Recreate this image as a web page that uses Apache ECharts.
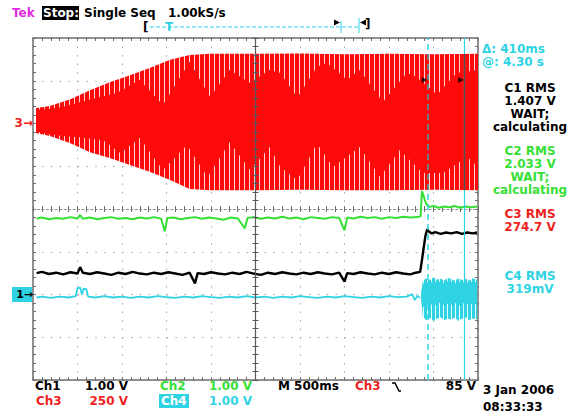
<!DOCTYPE html>
<html><head><meta charset="utf-8">
<script src="https://cdn.jsdelivr.net/npm/echarts@6/dist/echarts.min.js"></script>
<style>html,body{margin:0;padding:0;background:#fff}#c{width:570px;height:415px}</style>
</head><body><div id="c"></div>
<script>
// ---------------- DATA (x = time in s, 500 ms/div; y = screen divisions) ----------------
const ch3OuterTime = [0.034, 0.19, 0.42, 0.64, 0.87, 1.09, 1.31, 1.54, 1.76, 1.99, 2.5, 3.0, 3.5, 4.0, 4.5, 5.0];
const ch3OuterHigh = [2.36, 2.41, 2.57, 2.78, 2.97, 3.13, 3.30, 3.49, 3.60, 3.63, 3.63, 3.64, 3.62, 3.63, 3.62, 3.63];
const ch3OuterLow  = [1.78, 1.71, 1.54, 1.33, 1.19, 1.03, 0.87, 0.68, 0.47, 0.44, 0.44, 0.45, 0.44, 0.44, 0.45, 0.44];

const ch3InnerHighTime = [0.034, 0.19, 0.34, 0.72, 0.94, 1.20, 1.46, 1.76, 1.99, 2.21, 2.44, 2.66, 2.78, 2.97, 3.19, 3.30, 3.53, 3.67, 3.93, 4.20, 4.31, 4.54, 4.76, 5.00];
const ch3InnerHigh     = [2.32, 2.34, 2.39, 2.60, 2.71, 3.02, 2.43, 3.44, 2.62, 3.25, 2.95, 3.25, 3.18, 2.60, 3.32, 3.42, 3.02, 3.25, 2.50, 3.18, 3.09, 2.67, 3.18, 3.25];
const ch3InnerLowTime  = [0.034, 0.19, 0.34, 0.53, 0.79, 0.98, 1.20, 1.46, 1.73, 1.96, 2.21, 2.44, 2.66, 2.78, 2.97, 3.19, 3.37, 3.67, 3.90, 4.12, 4.38, 4.61, 4.88, 5.00];
const ch3InnerLow      = [1.82, 1.75, 1.71, 1.68, 1.61, 1.31, 1.66, 0.91, 1.50, 0.75, 1.57, 0.91, 1.45, 0.98, 0.68, 1.54, 0.98, 1.45, 0.75, 1.38, 0.84, 0.84, 1.22, 0.98];

const ch2Time = [0.04,0.10,0.18,0.26,0.34,0.42,0.50,0.53,0.56,0.64,0.72,0.80,0.88,0.96,1.04,1.12,1.20,1.28,1.36,1.44,1.48,1.51,1.58,1.66,1.74,1.82,1.90,1.98,2.06,2.14,2.22,2.30,2.38,2.41,2.48,2.56,2.64,2.72,2.80,2.88,2.96,3.04,3.12,3.20,3.28,3.36,3.44,3.50,3.53,3.60,3.68,3.76,3.84,3.92,4.00,4.08,4.16,4.24,4.32,4.355,4.37,4.39,4.41,4.43,4.46,4.50,4.56,4.62,4.68,4.74,4.80,4.86,4.92,4.99];
const ch2Volt = [-0.22,-0.20,-0.24,-0.21,-0.23,-0.19,-0.22,-0.14,-0.23,-0.20,-0.24,-0.21,-0.19,-0.23,-0.21,-0.24,-0.20,-0.22,-0.19,-0.23,-0.52,-0.21,-0.20,-0.24,-0.21,-0.19,-0.23,-0.20,-0.22,-0.25,-0.20,-0.22,-0.45,-0.21,-0.19,-0.23,-0.20,-0.22,-0.18,-0.22,-0.20,-0.24,-0.19,-0.21,-0.23,-0.19,-0.21,-0.50,-0.20,-0.22,-0.18,-0.21,-0.19,-0.23,-0.19,-0.21,-0.18,-0.20,-0.19,-0.17,0.42,0.30,0.16,0.08,0.05,0.07,0.03,0.06,0.04,0.07,0.03,0.06,0.04,0.06];

const ch1Time = [0.04,0.10,0.18,0.26,0.34,0.42,0.50,0.53,0.56,0.64,0.72,0.80,0.88,0.96,1.04,1.12,1.20,1.28,1.36,1.44,1.52,1.60,1.68,1.76,1.82,1.85,1.92,2.00,2.08,2.16,2.24,2.32,2.40,2.48,2.56,2.64,2.72,2.80,2.88,2.96,3.04,3.12,3.20,3.28,3.36,3.44,3.50,3.53,3.60,3.68,3.76,3.84,3.92,4.00,4.08,4.16,4.24,4.30,4.35,4.37,4.39,4.41,4.43,4.45,4.48,4.52,4.58,4.64,4.70,4.76,4.82,4.88,4.94,4.99];
const ch1Volt = [-1.50,-1.47,-1.52,-1.49,-1.53,-1.48,-1.51,-1.36,-1.49,-1.52,-1.48,-1.51,-1.54,-1.49,-1.52,-1.47,-1.51,-1.53,-1.49,-1.52,-1.48,-1.51,-1.54,-1.49,-1.74,-1.50,-1.52,-1.48,-1.51,-1.53,-1.49,-1.52,-1.47,-1.51,-1.54,-1.49,-1.52,-1.48,-1.51,-1.53,-1.49,-1.52,-1.48,-1.51,-1.53,-1.49,-1.70,-1.50,-1.52,-1.48,-1.51,-1.53,-1.49,-1.52,-1.48,-1.51,-1.53,-1.49,-1.47,-1.20,-0.90,-0.62,-0.47,-0.53,-0.57,-0.54,-0.58,-0.55,-0.57,-0.54,-0.58,-0.55,-0.57,-0.55];

const ch4Time = [0.04,0.10,0.20,0.30,0.40,0.48,0.50,0.53,0.55,0.57,0.60,0.62,0.70,0.80,0.90,1.00,1.10,1.20,1.30,1.40,1.50,1.60,1.70,1.80,1.90,2.00,2.10,2.20,2.30,2.40,2.50,2.60,2.70,2.80,2.90,3.00,3.10,3.20,3.30,3.40,3.50,3.60,3.70,3.80,3.90,4.00,4.10,4.20,4.26,4.29,4.32,4.35];
const ch4Volt = [-2.07,-2.05,-2.08,-2.05,-2.07,-2.04,-1.85,-1.84,-2.00,-1.86,-1.88,-2.05,-2.07,-2.04,-2.07,-2.05,-2.08,-2.05,-2.07,-2.04,-2.06,-2.08,-2.05,-2.07,-2.04,-2.06,-2.08,-2.05,-2.07,-2.04,-2.07,-2.05,-2.08,-2.05,-2.07,-2.04,-2.06,-2.08,-2.05,-2.07,-2.04,-2.06,-2.08,-2.05,-2.07,-2.04,-2.06,-2.05,-1.99,-2.13,-2.03,-2.08];
const ch4BandTime      = [4.36,4.38,4.42,4.46,4.50,4.54,4.58,4.62,4.66,4.70,4.74,4.78,4.82,4.86,4.90,4.94,4.99];
const ch4BandOuterHigh = [-2.00,-1.68,-1.62,-1.66,-1.60,-1.65,-1.63,-1.67,-1.61,-1.64,-1.68,-1.62,-1.66,-1.63,-1.67,-1.62,-1.65];
const ch4BandOuterLow  = [-2.10,-2.52,-2.60,-2.55,-2.62,-2.57,-2.53,-2.61,-2.56,-2.59,-2.54,-2.62,-2.57,-2.53,-2.60,-2.56,-2.58];
const ch4BandInnerHigh = [-2.02,-1.75,-1.70,-1.73,-1.68,-1.72,-1.70,-1.74,-1.69,-1.71,-1.75,-1.69,-1.73,-1.70,-1.74,-1.69,-1.72];
const ch4BandInnerLow  = [-2.08,-2.30,-2.25,-2.20,-2.28,-2.22,-2.18,-2.26,-2.21,-2.24,-2.19,-2.27,-2.22,-2.18,-2.25,-2.21,-2.23];

const cursorTimes = [4.44, 4.85];
const cursorMarkTimes = [4.40, 4.81];
const cursorMarkLevel = 3.02;

// ---------------- STYLE ----------------
const RED = '#ff0a0a', TRED = '#ee1f1f', GREEN = '#35e035', CYAN = '#2fd3e3', MAG = '#e02ce0';
const FRAME = '#6e6e6e', DOT = '#a6a6a6';
const FONT = 'bold 12px "DejaVu Sans", sans-serif';

function stripes(a, b, w, sw) {
  const c = document.createElement('canvas'); c.width = w; c.height = 4;
  const g = c.getContext('2d'); g.fillStyle = a; g.fillRect(0, 0, w, 4);
  g.fillStyle = b; g.fillRect(w - sw, 0, sw, 4);
  return { image: c, repeat: 'repeat', imageWidth: w, imageHeight: 4 };
}
function zip(t, v) { return t.map((x, i) => [x, v[i]]); }
function band(name, hiT, hi, loT, lo, fill, z) {
  return {
    type: 'custom', name: name, z: z, silent: true, animation: false,
    data: [[hiT[0], hi[0]]],
    renderItem: function (params, api) {
      const pts = [];
      for (let i = 0; i < hiT.length; i++) pts.push(api.coord([hiT[i], hi[i]]));
      for (let i = loT.length - 1; i >= 0; i--) pts.push(api.coord([loT[i], lo[i]]));
      return { type: 'polygon', shape: { points: pts }, style: { fill: fill, stroke: null } };
    }
  };
}
function trace(name, t, v, color, w) {
  return { type: 'line', name: name, data: zip(t, v), showSymbol: false, symbol: 'none', z: 3,
    lineStyle: { color: color, width: w }, silent: true, animation: false };
}
function txt(x, y, text, fill, align, font, lh) {
  const st = { text: text, fill: fill, font: font || FONT, align: align || 'left', verticalAlign: lh ? 'top' : 'middle',
      textAlign: align || 'left', textVerticalAlign: lh ? 'top' : 'middle' };
  if (lh) st.lineHeight = lh;
  return { type: 'text', x: x, y: y, z: 100, silent: true, style: st };
}
function frameX(pos, split) {
  return { type: 'value', min: 0, max: 5, interval: 0.5, position: pos,
    axisLine: { show: true, onZero: false, lineStyle: { color: FRAME, width: 1.5 } },
    axisTick: { show: true, inside: true, length: 3, lineStyle: { color: FRAME } },
    minorTick: { show: true, splitNumber: 5, length: 3, lineStyle: { color: FRAME } },
    axisLabel: { show: false },
    splitLine: { show: split, lineStyle: { color: DOT, type: [1.5, 7.05], width: 1 } } };
}
function frameY(pos, split) {
  return { type: 'value', min: -4, max: 4, interval: 1, position: pos,
    axisLine: { show: true, onZero: false, lineStyle: { color: FRAME, width: 1.5 } },
    axisTick: { show: true, inside: true, length: 3, lineStyle: { color: FRAME } },
    minorTick: { show: true, splitNumber: 5, length: 3, lineStyle: { color: FRAME } },
    axisLabel: { show: false },
    splitLine: { show: split, lineStyle: { color: DOT, type: [1.5, 7.4], width: 1 } } };
}
function centerX(inside, line) {
  return { type: 'value', min: 0, max: 5, interval: 0.5, position: 'bottom', z: 1,
    axisLine: { show: line, onZero: true, lineStyle: { color: '#8a8a8a', width: 1, type: [2, 2.45] } },
    axisTick: { show: true, inside: inside, length: 3, lineStyle: { color: FRAME } },
    minorTick: { show: true, splitNumber: 5, length: 3, lineStyle: { color: FRAME } },
    axisLabel: { show: false }, splitLine: { show: false } };
}
function centerY(inside, line) {
  return { type: 'value', min: -4, max: 4, interval: 1, position: 'left', offset: -222.5, z: 5,
    axisLine: { show: line, onZero: false, lineStyle: { color: '#5a5a5a', width: 1.2 } },
    axisTick: { show: true, inside: inside, length: 3, lineStyle: { color: '#5a5a5a' } },
    minorTick: { show: true, splitNumber: 5, length: 3, lineStyle: { color: '#5a5a5a' } },
    axisLabel: { show: false }, splitLine: { show: false } };
}

const redStripes = stripes(RED, '#ffd6d6', 5, 1);
const cyanStripes = stripes(CYAN, '#e6fbfd', 4, 1);
const last = ch3OuterTime.length - 1;

const chart = echarts.init(document.getElementById('c'), null, { renderer: 'svg', width: 570, height: 415 });
chart.setOption({
  animation: false,
  backgroundColor: '#ffffff',
  grid: { left: 33, top: 38, width: 445, height: 342, containLabel: false },
  xAxis: [frameX('bottom', true), frameX('top', false), centerX(false, true), centerX(true, false)],
  yAxis: [frameY('left', true), frameY('right', false), centerY(false, true), centerY(true, false)],
  series: [
    band('Ch3 envelope', ch3OuterTime, ch3OuterHigh, ch3OuterTime, ch3OuterLow, redStripes, 2),
    band('Ch3 core', ch3InnerHighTime, ch3InnerHigh, ch3InnerLowTime, ch3InnerLow, RED, 2),
    trace('Ch2', ch2Time, ch2Volt, GREEN, 2),
    trace('Ch1', ch1Time, ch1Volt, '#000000', 2.4),
    trace('Ch4', ch4Time, ch4Volt, CYAN, 1.8),
    band('Ch4 envelope', ch4BandTime, ch4BandOuterHigh, ch4BandTime, ch4BandOuterLow, cyanStripes, 3),
    band('Ch4 core', ch4BandTime, ch4BandInnerHigh, ch4BandTime, ch4BandInnerLow, CYAN, 3),
    { type: 'line', name: 'cursors', data: [], z: 5, silent: true,
      markLine: { symbol: 'none', silent: true, animation: false, label: { show: false },
        emphasis: { disabled: true },
        data: [
          { xAxis: cursorTimes[0], lineStyle: { color: CYAN, type: [6, 4], width: 1.5 } },
          { xAxis: cursorTimes[1], lineStyle: { color: CYAN, type: 'solid', width: 1.2 } },
          [{ coord: [cursorTimes[0], ch3OuterLow[last]], lineStyle: { color: '#707070', type: [6, 4], width: 1.5 } },
           { coord: [cursorTimes[0], ch3OuterHigh[last]] }],
          [{ coord: [cursorTimes[1], ch3OuterLow[last]], lineStyle: { color: '#505050', type: 'solid', width: 1.2 } },
           { coord: [cursorTimes[1], ch3OuterHigh[last]] }]
        ] } },
    { type: 'scatter', name: 'cursor marks', z: 6, silent: true, symbol: 'triangle', symbolRotate: -90,
      symbolSize: [6, 6], itemStyle: { color: '#000' },
      data: cursorMarkTimes.map(t => [t, cursorMarkLevel]) }
  ],
  graphic: [
    // header
    txt(12, 13, 'Tek', MAG),
    { type: 'rect', z: 99, silent: true, shape: { x: 42, y: 6, width: 37, height: 14 }, style: { fill: '#000' } },
    txt(43, 13, 'Stop:', '#ffffff'),
    txt(84, 13, 'Single Seq', '#000'),
    txt(168, 13, '1.00kS/s', '#000'),
    // record bar
    { type: 'line', z: 99, silent: true, shape: { x1: 150, y1: 27, x2: 359, y2: 27 }, style: { stroke: CYAN, lineWidth: 1, lineDash: [4, 2] } },
    txt(143, 27, '[', '#000', 'left', 'bold 12px "DejaVu Sans", sans-serif'),
    txt(165, 27, 'T', CYAN, 'left', 'bold 12px "DejaVu Sans", sans-serif'),
    { type: 'line', z: 99, silent: true, shape: { x1: 341, y1: 21, x2: 341, y2: 33 }, style: { stroke: CYAN, lineWidth: 1 } },
    { type: 'line', z: 99, silent: true, shape: { x1: 359, y1: 18, x2: 359, y2: 33 }, style: { stroke: CYAN, lineWidth: 1 } },
    { type: 'polygon', z: 99, silent: true, shape: { points: [[334, 19.5], [340, 22.5], [334, 25.5]] }, style: { fill: '#000' } },
    { type: 'polygon', z: 99, silent: true, shape: { points: [[366, 19.5], [360, 22.5], [366, 25.5]] }, style: { fill: '#000' } },
    txt(365, 24, ']', '#000', 'left', 'bold 12px "DejaVu Sans", sans-serif'),
    // channel markers
    txt(33, 123, '3\u2192', TRED, 'right', 'bold 12px "DejaVu Sans", sans-serif'),
    { type: 'rect', z: 99, silent: true, shape: { x: 12, y: 287, width: 20, height: 15 }, style: { fill: CYAN } },
    txt(33, 294, '1\u2192', '#000', 'right', 'bold 11px "DejaVu Sans", sans-serif'),
    // right readouts (multi-line blocks)
    txt(482, 42.5, '\u0394: 410ms\n@: 4.30 s', CYAN, 'left', FONT, 13),
    txt(530, 81.5, 'C1 RMS\n1.407 V\nWAIT;\ncalculating', '#000', 'center', FONT, 13),
    txt(530, 144.5, 'C2 RMS\n2.033 V\nWAIT;\ncalculating', GREEN, 'center', FONT, 13),
    txt(530, 207.5, 'C3 RMS\n274.7 V', TRED, 'center', FONT, 13),
    txt(530, 269.5, 'C4 RMS\n319mV', CYAN, 'center', FONT, 13),
    // bottom status
    txt(35, 386, 'Ch1', '#000'),
    txt(128, 386, '1.00 V', '#000', 'right'),
    txt(160, 386, 'Ch2', GREEN),
    txt(252, 386, '1.00 V', GREEN, 'right'),
    txt(278, 386, 'M 500ms', '#000'),
    txt(355, 386, 'Ch3', TRED),
    { type: 'polyline', z: 99, silent: true, shape: { points: [[392, 383], [395, 383], [399, 391], [401, 391]] }, style: { stroke: '#000', lineWidth: 1.6, fill: null } },
    txt(476, 386, '85 V', '#000', 'right'),
    txt(36, 400.5, 'Ch3', TRED),
    txt(128, 400.5, '250 V', TRED, 'right'),
    { type: 'rect', z: 99, silent: true, shape: { x: 159, y: 394, width: 30, height: 14 }, style: { fill: CYAN } },
    txt(161, 400.5, 'Ch4', '#ffffff'),
    txt(252, 400.5, '1.00 V', CYAN, 'right'),
    txt(483, 390, '3 Jan 2006', '#000'),
    txt(483, 407, '08:33:33', '#000')
  ]
});
</script></body></html>
